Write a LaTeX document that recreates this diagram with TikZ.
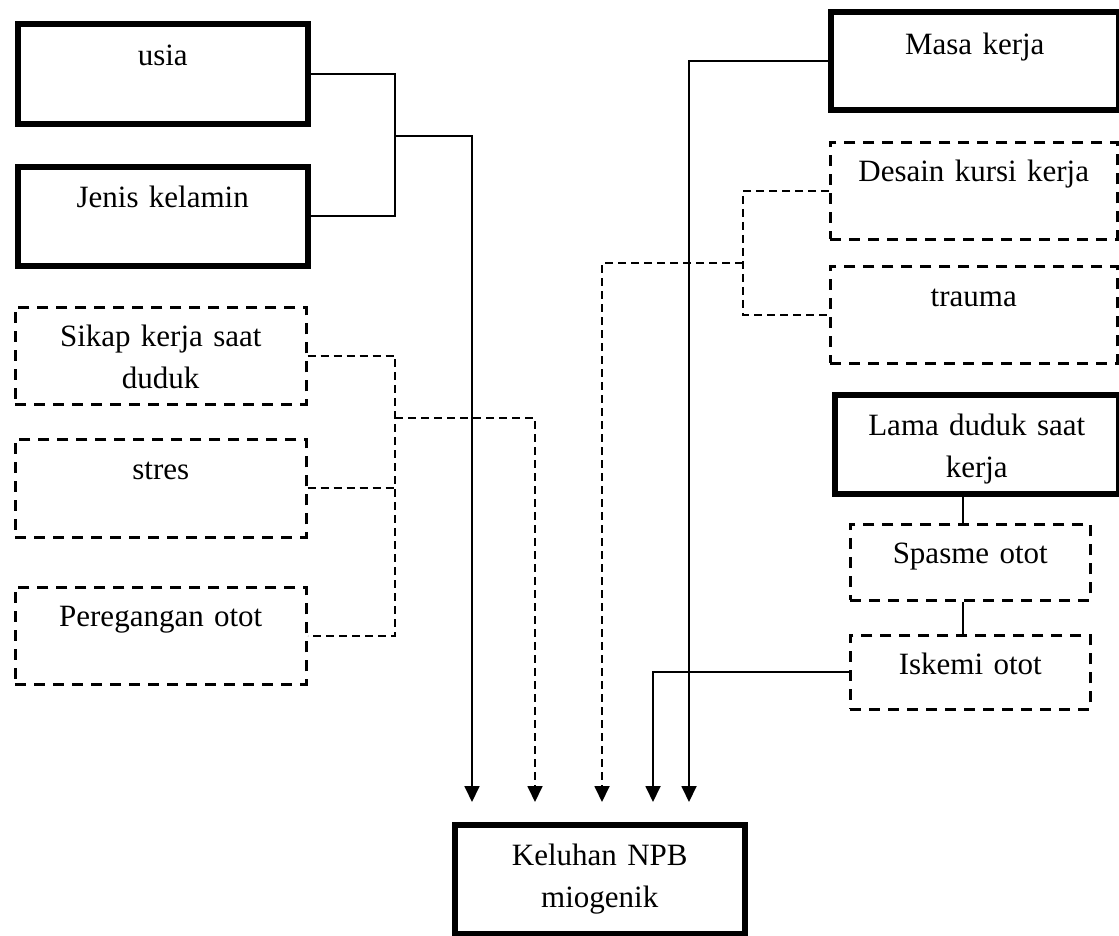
\documentclass[tikz,border=0pt]{standalone}
\usepackage{fontspec}
\setmainfont{Liberation Serif}
\usetikzlibrary{arrows.meta,calc}

\begin{document}
\begin{tikzpicture}[x=1pt,y=-1pt,
  every node/.style={font=\fontsize{31}{42}\selectfont},
  boxa/.style={draw,line width=5.5pt,anchor=north west,inner sep=0pt,align=center},
  boxb/.style={draw,line width=2.5pt,dash pattern=on 11pt off 8pt,anchor=north west,inner sep=0pt,align=center},
  lin/.style={line width=1.8pt},
  dlin/.style={line width=1.8pt,dash pattern=on 8pt off 5pt},
  arr/.style={-{Triangle[width=15pt,length=16pt]}}]
  \useasboundingbox (0,0) rectangle (1119,935);
  \draw(15,21) node[boxa,text width=290pt,text height=42pt,text depth=58pt] (usia) {usia};
  \draw(15,164) node[boxa,text width=290pt,text height=41pt,text depth=58pt] (jenis) {Jenis kelamin};
  \draw(14,306) node[boxb,text width=291pt,text height=39pt,text depth=58pt] (sikap) {Sikap kerja saat\\duduk};
  \draw(14,438) node[boxb,text width=291pt,text height=40pt,text depth=58pt] (stres) {stres};
  \draw(14,586) node[boxb,text width=291pt,text height=39pt,text depth=58pt] (pereg) {Peregangan otot};
  \draw(828,9) node[boxa,text width=288pt,text height=43pt,text depth=55pt] (masa) {Masa kerja};
  \draw(829,141) node[boxb,text width=287pt,text height=39pt,text depth=58pt] (desain) {Desain kursi kerja};
  \draw(829,265) node[boxb,text width=287pt,text height=40pt,text depth=57pt] (trauma) {trauma};
  \draw(832,392) node[boxa,text width=284pt,text height=41pt,text depth=58pt] (lama) {Lama duduk saat\\kerja};
  \draw(849,523) node[boxb,text width=240pt,text height=39pt,text depth=37pt] (spasme) {Spasme otot};
  \draw(849,634) node[boxb,text width=240pt,text height=39pt,text depth=35pt] (iskemi) {Iskemi otot};
  \draw(452,822) node[boxa,text width=290pt,text height=41pt,text depth=68pt] (keluhan) {Keluhan NPB\\miogenik};

  \coordinate (k1) at ([xshift=20pt,yshift=20pt]keluhan.north west);
  \coordinate (k2) at ([xshift=83pt,yshift=20pt]keluhan.north west);
  \coordinate (k3) at ([xshift=150pt,yshift=20pt]keluhan.north west);
  \coordinate (k4) at ([xshift=201pt,yshift=20pt]keluhan.north west);
  \coordinate (k5) at ([xshift=237pt,yshift=20pt]keluhan.north west);

  \coordinate (j1) at (395,136);
  \draw[lin] (usia.east) -| (j1) |- (jenis.east);
  \draw[lin,arr] (j1) -| (k1);

  \coordinate (j2) at (395,418);
  \draw[dlin] (sikap.east) -| (j2) |- (pereg.east);
  \draw[dlin] (stres.east) -- (stres.east -| j2);
  \draw[dlin,arr] (j2) -| (k2);

  \coordinate (j3) at (743,263);
  \draw[dlin] (desain.west) -| (j3) |- (trauma.west);
  \draw[dlin,arr] (j3) -| (k3);

  \draw[lin,arr] (masa.west) -| (k5);
  \draw[lin,arr] (iskemi.west) -| (k4);

  \coordinate (s1) at ([xshift=-7pt]spasme.north);
  \draw[lin] (s1) -- (s1 |- lama.south);
  \coordinate (s2) at ([xshift=-7pt]iskemi.north);
  \draw[lin] (s2) -- (s2 |- spasme.south);
\end{tikzpicture}
\end{document}
